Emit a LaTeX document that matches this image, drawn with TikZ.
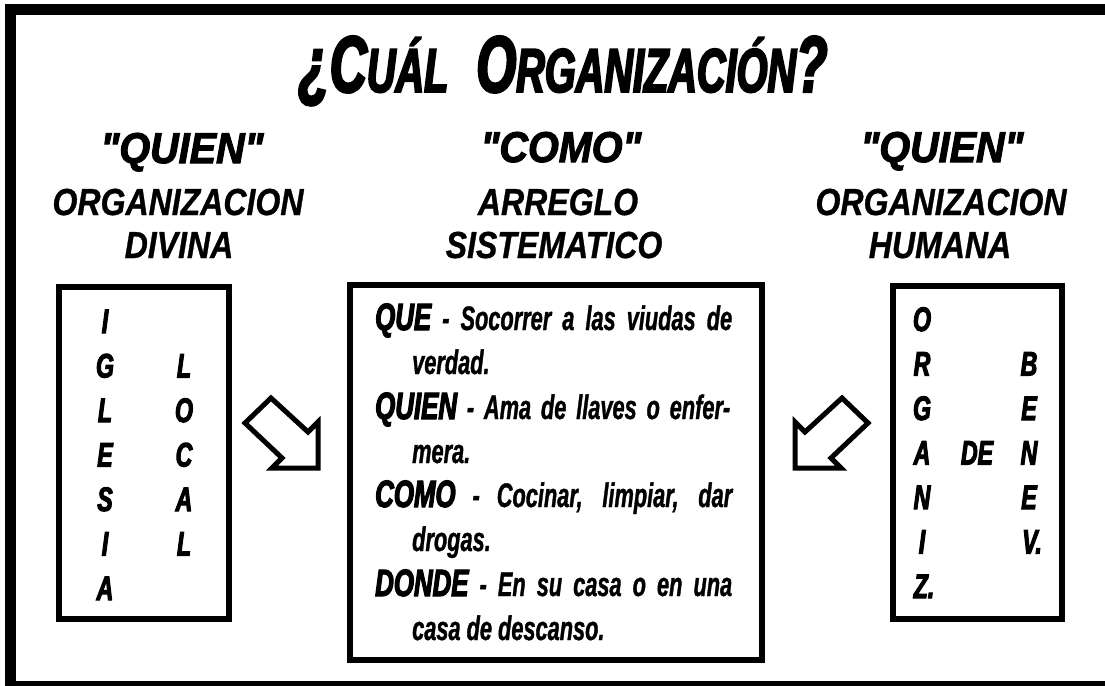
\documentclass[tikz,border=0pt]{standalone}
\usepackage{fontspec}
\setmainfont{Liberation Sans}
\newfontfamily\titlefont[FakeStretch=0.64,FakeBold=3]{Liberation Sans}
\newfontfamily\headfont[FakeStretch=0.85,FakeBold=0.8]{Liberation Sans}
\newfontfamily\quotefont[FakeStretch=0.92,FakeBold=2.5]{Liberation Sans}
\newfontfamily\bodyfont[FakeStretch=0.64,FakeBold=1]{Liberation Sans}
\newfontfamily\boxheadfont[FakeStretch=0.68,FakeBold=3]{Liberation Sans}
\newcommand\bh[1]{{\boxheadfont\bfseries\itshape\fontsize{38}{38}\selectfont #1}}
\begin{document}
\begin{tikzpicture}[x=1pt,y=-1pt,
  frame/.style={draw,line width=11},
  box/.style={draw,line width=5.5,inner sep=0},
  hollow/.style={draw,line width=5,line join=miter,fill=white},
  qhead/.style={anchor=base,inner sep=0,font=\quotefont\bfseries\itshape\fontsize{43}{43}\selectfont},
  shead/.style={anchor=base,inner sep=0,font=\headfont\bfseries\itshape\fontsize{37.7}{37.7}\selectfont},
  letter/.style={anchor=base,inner sep=0,font=\boxheadfont\bfseries\itshape\fontsize{34}{34}\selectfont},
  txtline/.style={anchor=base west,inner sep=0,font=\bodyfont\bfseries\itshape\fontsize{34}{34}\selectfont}]
\useasboundingbox (0,0) rectangle (1105,685);
\fill[white] (0,0) rectangle (1105,685);
\begin{scope}
\clip (0,0) rectangle (1105,685);
\draw[frame] (10.5,9.5) rectangle (1116,686.5);
\end{scope}

% title
\node[anchor=base,inner sep=0] (title) at (563,92)
  {\titlefont\bfseries\itshape\fontsize{80}{80}\selectfont ¿C{\fontsize{62}{62}\selectfont UÁL}\hspace{28pt}O{\fontsize{62}{62}\selectfont RGANIZACIÓN}?};

% column headings
\node[qhead] (q1) at (182,163) {"QUIEN"};
\node[shead] (o1) at (178,215) {ORGANIZACION};
\node[shead] (d1) at (179,258) {DIVINA};
\node[qhead] (q2) at (561,162) {"COMO"};
\node[shead] (a2) at (558,215) {ARREGLO};
\node[shead] (s2) at (554,258) {SISTEMATICO};
\node[qhead] (q3) at (942,162) {"QUIEN"};
\node[shead] (o3) at (941,215) {ORGANIZACION};
\node[shead] (h3) at (940,258) {HUMANA};

% boxes
\node[box,minimum width=170,minimum height=332] (lbox) at (144,453) {};
\node[box,minimum width=412,minimum height=375] (mbox) at (556,472.5) {};
\node[box,minimum width=169,minimum height=333] (rbox) at (977.5,452.5) {};

% left box letters
\node[letter] (l1) at (105,333) {I};
\node[letter] (l2) at (105,377.5) {G};
\node[letter] (l3) at (105,422) {L};
\node[letter] (l4) at (105,466.5) {E};
\node[letter] (l5) at (105,511) {S};
\node[letter] (l6) at (105,555.5) {I};
\node[letter] (l7) at (105,600) {A};
\node[letter] (k1) at (184,377.5) {L};
\node[letter] (k2) at (184,422) {O};
\node[letter] (k3) at (184,466.5) {C};
\node[letter] (k4) at (184,511) {A};
\node[letter] (k5) at (184,555.5) {L};

% right box letters
\node[letter] (r1) at (922,331) {O};
\node[letter] (r2) at (922,375.5) {R};
\node[letter] (r3) at (922,420) {G};
\node[letter] (r4) at (922,464.5) {A};
\node[letter] (r5) at (922,509) {N};
\node[letter] (r6) at (922,553.5) {I};
\node[letter] (r7) at (924,598) {Z.};
\node[letter] (de) at (977,464.5) {DE};
\node[letter] (b1) at (1029,375.5) {B};
\node[letter] (b2) at (1029,420) {E};
\node[letter] (b3) at (1029,464.5) {N};
\node[letter] (b4) at (1029,509) {E};
\node[letter] (b5) at (1032,553.5) {V.};

% middle box text
\node[txtline] (m1) at (375,330) {\makebox[357pt][s]{\bh{QUE} - Socorrer a las viudas de}};
\node[txtline] (m2) at (412,374) {verdad.};
\node[txtline] (m3) at (375,419) {\makebox[355pt][s]{\bh{QUIEN} - Ama de llaves o enfer-}};
\node[txtline] (m4) at (412,463) {mera.};
\node[txtline] (m5) at (375,507) {\makebox[357pt][s]{\bh{COMO} - Cocinar, limpiar, dar}};
\node[txtline] (m6) at (412,551) {drogas.};
\node[txtline] (m7) at (375,596) {\makebox[357pt][s]{\bh{DONDE} - En su casa o en una}};
\node[txtline] (m8) at (412,640) {casa de descanso.};

% hollow arrows
\draw[hollow] (271,398) -- (308,432) -- (318,422) -- (318,468) -- (272,468) -- (282,458) -- (245,423) -- cycle;
\draw[hollow] (842,398) -- (805,432) -- (795,422) -- (795,468) -- (841,468) -- (831,458) -- (868,423) -- cycle;
\end{tikzpicture}
\end{document}
